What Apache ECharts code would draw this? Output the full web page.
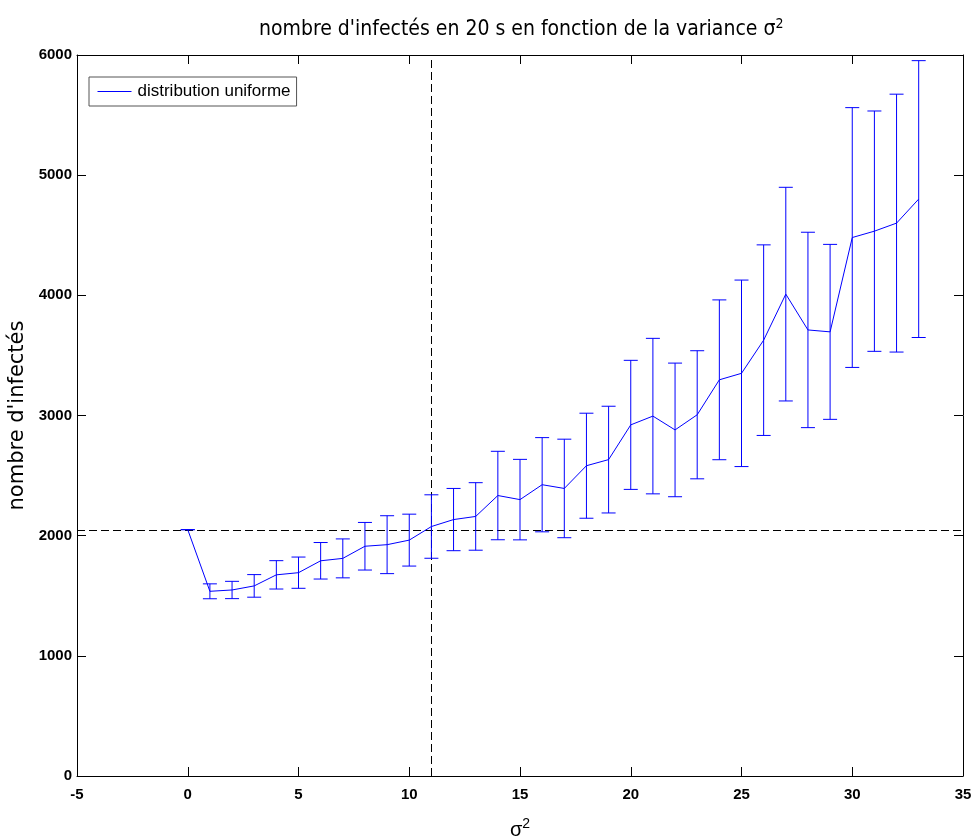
<!DOCTYPE html>
<html>
<head>
<meta charset="utf-8">
<script src="https://cdn.jsdelivr.net/npm/echarts@6/dist/echarts.min.js"></script>
<style>
  html, body { margin: 0; padding: 0; background: #fff; }
  #chart { width: 973px; height: 840px; }
</style>
</head>
<body>
<div id="chart"></div>
<script>
// variance values (sigma^2)
const sigma2 = [0, 1, 2, 3, 4, 5, 6, 7, 8, 9, 10, 11, 12, 13, 14, 15, 16,
  17, 18, 19, 20, 21, 22, 23, 24, 25, 26, 27, 28, 29, 30, 31, 32, 33];
// mean number of infected after 20 s
const meanInfected = [2050, 1537, 1548, 1582, 1674, 1692, 1791, 1811, 1912, 1925, 1963,
  2076, 2134, 2160, 2334, 2300, 2424, 2393, 2582, 2633, 2922, 2995, 2880, 3006,
  3297, 3351, 3627, 4010, 3712, 3696, 4481, 4534, 4601, 4801];
// standard deviation (error bar half-width)
const stdInfected = [0, 62, 72, 94, 118, 130, 152, 162, 198, 241, 216,
  264, 259, 281, 368, 335, 392, 410, 437, 444, 537, 647, 556, 533,
  665, 776, 793, 889, 813, 728, 1081, 1000, 1073, 1152];
// reference lines
const refSigma2 = 11;
const refInfected = 2045;

const xTicks = { min: -5, max: 35, interval: 5 };
const yTicks = { min: 0, max: 6000, interval: 1000 };

const lineData = sigma2.map((s, i) => [s, meanInfected[i]]);
const errData = sigma2.map((s, i) => [s, meanInfected[i] - stdInfected[i], meanInfected[i] + stdInfected[i]]);

const BLUE = '#0000ff';
const NARROW = "'Liberation Sans Narrow', 'DejaVu Sans Condensed', 'Arial Narrow', 'Liberation Sans', sans-serif";
const tickFont = { color: '#000', fontFamily: 'Liberation Sans', fontSize: 15, fontWeight: 'bold', formatter: v => String(v) };

const chart = echarts.init(document.getElementById('chart'), null, { renderer: 'canvas' });

const axisCommon = {
  axisLine: { show: true, onZero: false, lineStyle: { color: '#000', width: 1 } },
  axisTick: { show: true, inside: true, length: 9, lineStyle: { color: '#000', width: 1 } },
  splitLine: { show: false }
};

chart.setOption({
  animation: false,
  backgroundColor: '#fff',
  title: {
    text: "nombre d'infectés en 20 s en fonction de la variance σ{sup|2}",
    left: 254,
    top: 12,
    textStyle: {
      fontFamily: NARROW,
      fontSize: 21,
      fontWeight: 'normal',
      color: '#000',
      rich: {
        sup: { fontFamily: NARROW, fontSize: 14, color: '#000', padding: [0, 0, 11, 0] }
      }
    }
  },
  legend: {
    left: 89,
    top: 77,
    orient: 'vertical',
    backgroundColor: '#fff',
    borderColor: '#555',
    borderWidth: 1,
    borderRadius: 0,
    padding: [6, 6, 6, 8],
    itemWidth: 34,
    itemHeight: 14,
    itemGap: 0,
    itemStyle: { opacity: 0 },
    lineStyle: { color: BLUE, width: 1, opacity: 1 },
    textStyle: { fontFamily: 'Liberation Sans', fontSize: 17, color: '#000', padding: [0, 0, 0, 1] },
    data: ['distribution uniforme']
  },
  grid: { left: 77, right: 10, top: 55, bottom: 64, containLabel: false, outerBoundsMode: 'none' },
  xAxis: [
    Object.assign({
      type: 'value', position: 'bottom',
      min: xTicks.min, max: xTicks.max, interval: xTicks.interval,
      name: 'σ{sup|2}',
      nameLocation: 'middle',
      nameGap: 41,
      nameTextStyle: {
        fontFamily: 'Liberation Sans', fontSize: 20, color: '#000',
        rich: { sup: { fontFamily: 'Liberation Sans', fontSize: 14, color: '#000', padding: [0, 0, 12, 0] } }
      },
      axisLabel: Object.assign({ margin: 11 }, tickFont)
    }, axisCommon),
    Object.assign({
      type: 'value', position: 'top',
      min: xTicks.min, max: xTicks.max, interval: xTicks.interval,
      axisLabel: { show: false }
    }, axisCommon)
  ],
  yAxis: [
    Object.assign({
      type: 'value', position: 'left',
      min: yTicks.min, max: yTicks.max, interval: yTicks.interval,
      name: "nombre d'infectés",
      nameLocation: 'middle',
      nameGap: 34,
      nameRotate: 90,
      nameTextStyle: { fontFamily: 'DejaVu Sans', fontSize: 21, color: '#000' },
      axisLabel: Object.assign({ margin: 5 }, tickFont)
    }, axisCommon),
    Object.assign({
      type: 'value', position: 'right',
      min: yTicks.min, max: yTicks.max, interval: yTicks.interval,
      axisLabel: { show: false }
    }, axisCommon)
  ],
  series: [
    {
      name: 'distribution uniforme',
      type: 'line',
      xAxisIndex: 0,
      yAxisIndex: 0,
      data: lineData,
      showSymbol: false,
      symbol: 'none',
      lineStyle: { color: BLUE, width: 1 },
      itemStyle: { color: BLUE },
      z: 3,
      markLine: {
        silent: true,
        symbol: 'none',
        label: { show: false },
        lineStyle: { color: '#000', width: 1, type: [8, 4] },
        data: [{ xAxis: refSigma2 }, { yAxis: refInfected }],
        z: 2
      }
    },
    {
      name: 'errorbars',
      type: 'custom',
      xAxisIndex: 0,
      yAxisIndex: 0,
      data: errData,
      encode: { x: 0, y: [1, 2] },
      z: 4,
      renderItem: function (params, api) {
        const x = api.value(0);
        const lo = api.coord([x, api.value(1)]);
        const hi = api.coord([x, api.value(2)]);
        const half = 7;
        const style = { stroke: BLUE, lineWidth: 1, fill: null };
        return {
          type: 'group',
          children: [
            { type: 'line', shape: { x1: lo[0], y1: lo[1], x2: hi[0], y2: hi[1] }, style: style },
            { type: 'line', shape: { x1: lo[0] - half, y1: lo[1], x2: lo[0] + half, y2: lo[1] }, style: style },
            { type: 'line', shape: { x1: hi[0] - half, y1: hi[1], x2: hi[0] + half, y2: hi[1] }, style: style }
          ]
        };
      }
    }
  ]
});
</script>
</body>
</html>
